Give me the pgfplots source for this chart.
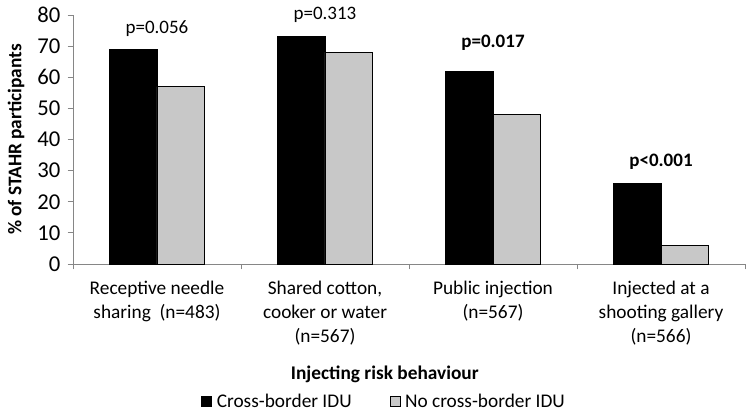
\documentclass[border=0pt]{standalone}
\usepackage{pgfplots}
\pgfplotsset{compat=1.18}
\usepackage{fontspec}
\setmainfont{Carlito}
\definecolor{barGray}{RGB}{200,200,200}
\definecolor{axGray}{RGB}{134,134,134}
\begin{document}
\begin{tikzpicture}
\begin{axis}[
  scale only axis, width=504pt, height=186.75pt,
  xmin=-0.5, xmax=3.5, ymin=0, ymax=80,
  axis lines*=left,
  axis line style={draw=axGray, line width=0.6pt},
  tick style={draw=axGray, line width=0.6pt},
  tick align=outside, major tick length=4pt,
  ytick={0,10,...,80},
  yticklabel style={font=\fontsize{17}{20}\selectfont, xshift=-2pt},
  /pgf/number format/assume math mode=true,
  xtick={-0.5,0.5,1.5,2.5,3.5},
  xticklabels={},
  extra x ticks={0,1,2,3},
  extra x tick labels={{Receptive needle\\sharing\ \ (n=483)},{Shared cotton,\\cooker or water\\(n=567)},{Public injection\\(n=567)},{Injected at a\\shooting gallery\\(n=566)}},
  extra x tick style={major tick length=0pt, tick style={draw=none}},
  xticklabel style={align=center, anchor=north, font=\fontsize{14.5}{17.8}\selectfont, yshift=-9.5pt},
  ylabel={\% of STAHR participants},
  ylabel style={at={(axis description cs:-0.0848,0.5)}, anchor=center, font=\bfseries\fontsize{14.5}{17}\selectfont},
  xlabel={Injecting risk behaviour},
  xlabel style={at={(axis description cs:0.464,0)}, anchor=center, yshift=-82.5pt, font=\bfseries\fontsize{14.5}{17}\selectfont},
  ybar=0pt, bar width=35.5pt,
  legend style={at={(axis description cs:0.463,-0.552)}, anchor=center, draw=none, fill=none,
    nodes={inner sep=1.5pt},
    font=\fontsize{14.5}{17}\selectfont, /tikz/every even column/.append style={column sep=27pt}},
  legend columns=2,
  legend image code/.code={\draw[#1,draw=black,line width=0.5pt] (0pt,-3.75pt) rectangle (7.5pt,3.75pt); \path (9.5pt,0pt);},
  clip=false,
]
\addplot[fill=black, draw=black, line width=0.6pt, bar shift=-17.75pt] coordinates {(0,69) (1,73) (2,62) (3,26)};
\addplot[fill=barGray, draw=black, line width=0.6pt, bar shift=17.75pt] coordinates {(0,57) (1,68) (2,48) (3,6)};
\legend{Cross-border IDU, No cross-border IDU}
\node[font=\fontsize{14.25}{17}\selectfont] at (axis cs:0,75.5) {p=0.056};
\node[font=\fontsize{14.25}{17}\selectfont] at (axis cs:1,80) {p=0.313};
\node[font=\bfseries\fontsize{14.25}{17}\selectfont] at (axis cs:2,71) {p=0.017};
\node[font=\bfseries\fontsize{14.25}{17}\selectfont] at (axis cs:3,32.8) {p<0.001};
\end{axis}
\pgfresetboundingbox
\path[use as bounding box] ([shift={(-54.75pt,-113.25pt)}]current axis.south west) rectangle ([shift={(6.75pt,11.25pt)}]current axis.north east);
\end{tikzpicture}
\end{document}
